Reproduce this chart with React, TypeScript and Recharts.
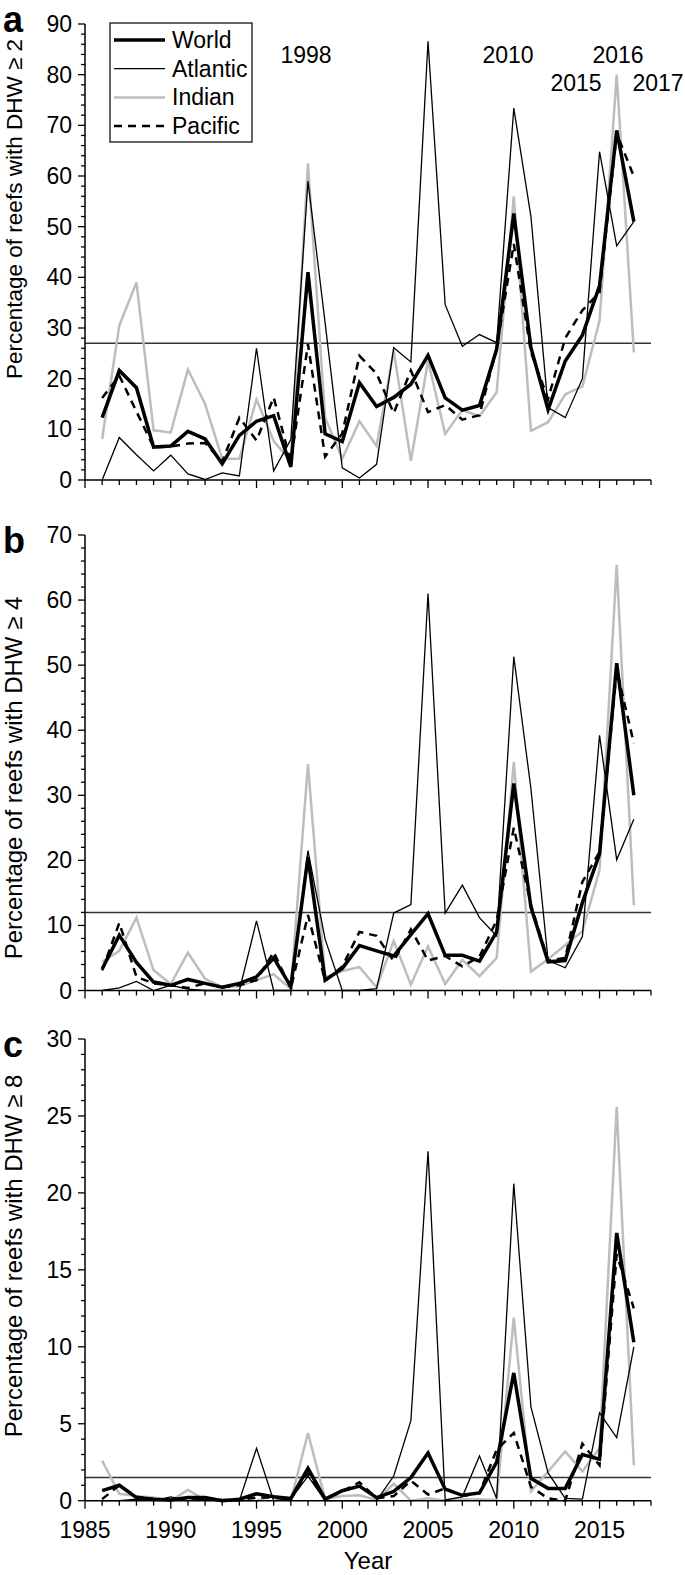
import { LineChart, Line, XAxis, YAxis, ReferenceLine, Label } from 'recharts'

const FONT = '"Liberation Sans", Arial, Helvetica, sans-serif'

// years on the x axis
const years = [
  1986, 1987, 1988, 1989, 1990, 1991, 1992, 1993, 1994, 1995, 1996,
  1997, 1998, 1999, 2000, 2001, 2002, 2003, 2004, 2005, 2006, 2007,
  2008, 2009, 2010, 2011, 2012, 2013, 2014, 2015, 2016, 2017,
]

// panel a: DHW >= 2
const worldA = [12.3, 21.6, 18.2, 6.5, 6.7, 9.6, 8.1, 3.2, 8.8, 11.6, 12.7, 2.6, 41, 9.1, 7.6, 19.2, 14.5, 16.3, 18.9, 24.6, 16.2, 13.8, 14.7, 25.8, 52.6, 26.1, 13.9, 23.5, 28.6, 38.3, 69, 51]
const atlanticA = [0, 8.4, 5, 1.8, 4.9, 1.2, 0.1, 1.4, 0.8, 26, 1.8, 8, 59, 31, 2.4, 0.4, 3.1, 26.1, 23.3, 86.6, 34.6, 26.4, 28.7, 27.1, 73.4, 52, 14.3, 12.3, 20, 64.8, 46.2, 51]
const indianA = [8.1, 30.5, 39, 9.8, 9.4, 21.8, 15, 4.2, 4.2, 15.9, 7.7, 3.7, 62.5, 12.3, 4.2, 11.6, 6.7, 25.5, 3.8, 23.5, 9.1, 13.8, 12.6, 17.3, 56, 9.7, 11.4, 16.9, 18.5, 31.4, 80, 25.2]
const pacificA = [16.2, 20.6, 13.5, 6.5, 6.6, 7.2, 7.3, 3.6, 12.3, 7.8, 16.3, 3.6, 26.8, 4.6, 9.2, 24.5, 21, 13.2, 21.6, 13.4, 14.8, 11.9, 12.8, 26, 46.6, 25.2, 16, 28, 33.5, 37, 68.4, 59.9]

// panel b: DHW >= 4
const worldB = [3.3, 8.5, 4.3, 1.3, 0.8, 1.7, 1.1, 0.5, 1.1, 2.1, 5, 0.6, 20.5, 1.6, 3.4, 6.9, 6.1, 5.3, 8.6, 11.8, 5.4, 5.4, 4.5, 9, 31.8, 12.8, 4.4, 4.6, 13.5, 21, 50.3, 30]
const atlanticB = [0, 0.4, 1.4, 0, 0.8, 0.2, 0, 0, 0, 10.7, 0, 0, 21.5, 7.9, 0, 0, 0.3, 11.9, 13.2, 61, 11.9, 16.2, 11.2, 8.4, 51.3, 31, 4.6, 3.5, 8.3, 39.2, 20.1, 26.3]
const indianB = [4.4, 6.1, 11.2, 3.1, 1, 5.8, 1.8, 0.5, 0.7, 1.6, 2.5, 0.2, 34.8, 2, 3, 3.6, 0.5, 7.6, 0.9, 6.8, 1, 4.7, 2.2, 5, 35.1, 2.9, 4.8, 7, 9.1, 18.5, 65.4, 13.1]
const pacificB = [3.1, 10.4, 2.1, 1.1, 0.8, 0.4, 1.1, 0.5, 0.8, 1.6, 5.9, 0.3, 11.6, 1.5, 3.7, 9, 8.4, 4.5, 9.4, 4.6, 5.3, 3.7, 5.2, 10.8, 25, 13.2, 4.6, 5, 16.7, 21.3, 49.2, 38]

// panel c: DHW >= 8
const worldC = [0.65, 1, 0.2, 0.1, 0.05, 0.2, 0.2, 0, 0.1, 0.45, 0.25, 0.15, 2.1, 0.1, 0.65, 0.95, 0.2, 0.6, 1.5, 3.1, 0.75, 0.35, 0.5, 2.5, 8.3, 1.45, 0.8, 0.8, 3, 2.7, 17.4, 10.3]
const atlanticC = [0, 0, 0.1, 0, 0.25, 0, 0.1, 0, 0, 3.4, 0, 0.1, 1.6, 0, 0, 0, 0, 1.6, 5.2, 22.7, 0.05, 0.25, 2.9, 0.15, 20.6, 6.1, 1.8, 0.15, 0.1, 5.7, 4.1, 10]
const indianC = [2.6, 0.45, 0.3, 0.2, 0, 0.7, 0.05, 0, 0, 0, 0.3, 0, 4.4, 0.1, 0.3, 0.35, 0.05, 1.1, 0, 0.15, 0, 0.1, 0.1, 0.05, 11.9, 0.6, 1.9, 3.2, 1.9, 3.4, 25.6, 2.3]
const pacificC = [0.1, 1, 0.25, 0.1, 0.05, 0.15, 0.15, 0.05, 0.05, 0.2, 0.2, 0.1, 1.8, 0.1, 0.6, 1.2, 0.15, 0.3, 1.3, 0.4, 0.8, 0.3, 0.5, 3.3, 4.4, 0.9, 0.15, 0, 3.7, 2.3, 16, 12.5]

// thresholds drawn as horizontal lines
const thresholds = [27, 12, 1.5]

// annotations over panel a
const peakLabels = [
  { text: '1998', x: 306, y: 63 },
  { text: '2010', x: 508, y: 63 },
  { text: '2016', x: 618, y: 63 },
  { text: '2015', x: 576, y: 91 },
  { text: '2017', x: 658, y: 91 },
]

const seriesNames = ['World', 'Atlantic', 'Indian', 'Pacific']

// y titles: text, vertical centre, font size
const yTitles = [
  { text: 'Percentage of reefs with DHW ≥ 2', cy: 209, size: 22.5 },
  { text: 'Percentage of reefs with DHW ≥ 4', cy: 778, size: 24 },
  { text: 'Percentage of reefs with DHW ≥ 8', cy: 1256, size: 24 },
]

const xTicks = Array.from({ length: 34 }, (_, i) => 1985 + i)

const buildRows = (w: number[], a: number[], ind: number[], p: number[]) =>
  years.map((year, i) => ({ year, world: w[i], atlantic: a[i], indian: ind[i], pacific: p[i] }))

const rowsA = buildRows(worldA, atlanticA, indianA, pacificA)
const rowsB = buildRows(worldB, atlanticB, indianB, pacificB)
const rowsC = buildRows(worldC, atlanticC, indianC, pacificC)

const XTick = ({ x, y, payload, showLabel }: any) => {
  const major = payload.value % 5 === 0
  return (
    <g>
      <line x1={x} x2={x} y1={y} y2={y + (major ? 8 : 5)} stroke="#000" strokeWidth={1.3} />
      {showLabel && major && (
        <text x={x} y={y + 37} textAnchor="middle" fontFamily={FONT} fontSize={23} fill="#000">
          {payload.value}
        </text>
      )}
    </g>
  )
}

const YTick = ({ x, y, payload, labelStep }: any) => {
  const major = payload.value % labelStep === 0
  return (
    <g>
      <line x1={x} x2={x - (major ? 7 : 4)} y1={y} y2={y} stroke="#000" strokeWidth={1.3} />
      {major && (
        <text x={x - 13} y={y + 8} textAnchor="end" fontFamily={FONT} fontSize={23} fill="#000">
          {payload.value}
        </text>
      )}
    </g>
  )
}

interface PanelProps {
  rows: ReturnType<typeof buildRows>
  top: number
  plotHeight: number
  yMax: number
  yStep: number
  labelStep: number
  refY: number
  xAxisHeight: number
  showYears?: boolean
}

const Panel = ({ rows, top, plotHeight, yMax, yStep, labelStep, refY, xAxisHeight, showYears }: PanelProps) => {
  const yTicks = Array.from({ length: Math.round(yMax / yStep) + 1 }, (_, i) => i * yStep)
  return (
    <div style={{ position: 'absolute', left: 0, top }}>
      <LineChart
        width={685}
        height={20 + plotHeight + xAxisHeight}
        data={rows}
        margin={{ top: 20, right: 34, bottom: 0, left: 0 }}
      >
        <XAxis
          dataKey="year"
          type="number"
          domain={[1985, 2018]}
          ticks={xTicks}
          interval={0}
          height={xAxisHeight}
          tickSize={0}
          tickMargin={0}
          tickLine={false}
          axisLine={{ stroke: '#000', strokeWidth: 1.5 }}
          tick={(props: any) => <XTick {...props} showLabel={showYears} />}
        >
          {showYears && (
            <Label value="Year" position="insideBottom" offset={4} fontFamily={FONT} fontSize={24} fill="#000" />
          )}
        </XAxis>
        <YAxis
          type="number"
          domain={[0, yMax]}
          ticks={yTicks}
          interval={0}
          width={85}
          tickSize={0}
          tickMargin={0}
          tickLine={false}
          axisLine={{ stroke: '#000', strokeWidth: 1.5 }}
          tick={(props: any) => <YTick {...props} labelStep={labelStep} />}
        />
        <ReferenceLine y={refY} stroke="#333" strokeWidth={1.5} />
        <Line type="linear" dataKey="indian" stroke="#bdbdbd" strokeWidth={2.5} dot={false} activeDot={false} isAnimationActive={false} />
        <Line type="linear" dataKey="atlantic" stroke="#000" strokeWidth={1.3} dot={false} activeDot={false} isAnimationActive={false} />
        <Line type="linear" dataKey="pacific" stroke="#000" strokeWidth={2.5} strokeDasharray="8 6" dot={false} activeDot={false} isAnimationActive={false} />
        <Line type="linear" dataKey="world" stroke="#000" strokeWidth={3.5} dot={false} activeDot={false} isAnimationActive={false} />
      </LineChart>
    </div>
  )
}

const legendStyles = [
  { stroke: '#000', width: 3.5, dash: undefined },
  { stroke: '#000', width: 1.3, dash: undefined },
  { stroke: '#bdbdbd', width: 2.5, dash: undefined },
  { stroke: '#000', width: 2.5, dash: '8 6' },
]

const Overlay = () => (
  <svg width={685} height={1575} style={{ position: 'absolute', left: 0, top: 0, pointerEvents: 'none' }}>
    {/* panel letters */}
    <text x={3} y={32} fontFamily={FONT} fontSize={36} fontWeight="bold">a</text>
    <text x={3} y={553} fontFamily={FONT} fontSize={36} fontWeight="bold">b</text>
    <text x={3} y={1057} fontFamily={FONT} fontSize={36} fontWeight="bold">c</text>

    {/* y titles */}
    {yTitles.map((t) => (
      <text
        key={t.text}
        transform={`translate(22,${t.cy}) rotate(-90)`}
        textAnchor="middle"
        fontFamily={FONT}
        fontSize={t.size}
      >
        {t.text}
      </text>
    ))}

    {/* event years */}
    {peakLabels.map((p) => (
      <text key={p.text} x={p.x} y={p.y} textAnchor="middle" fontFamily={FONT} fontSize={23}>
        {p.text}
      </text>
    ))}

    {/* legend */}
    <rect x={110} y={23} width={142} height={119} fill="#fff" stroke="#000" strokeWidth={1.2} />
    {seriesNames.map((name, i) => {
      const cy = 40 + i * 28.7
      const st = legendStyles[i]
      return (
        <g key={name}>
          <line x1={114} x2={165} y1={cy} y2={cy} stroke={st.stroke} strokeWidth={st.width} strokeDasharray={st.dash} />
          <text x={172} y={cy + 8} fontFamily={FONT} fontSize={23}>{name}</text>
        </g>
      )
    })}
  </svg>
)

export default function App() {
  return (
    <div style={{ position: 'absolute', left: 0, top: 0, width: 685, height: 1575, background: '#fff' }}>
      <Panel rows={rowsA} top={3.5} plotHeight={456} yMax={90} yStep={2} labelStep={10} refY={thresholds[0]} xAxisHeight={20} />
      <Panel rows={rowsB} top={515} plotHeight={455.5} yMax={70} yStep={2} labelStep={10} refY={thresholds[1]} xAxisHeight={20} />
      <Panel rows={rowsC} top={1019} plotHeight={461.7} yMax={30} yStep={1} labelStep={5} refY={thresholds[2]} xAxisHeight={72} showYears />
      <Overlay />
    </div>
  )
}
